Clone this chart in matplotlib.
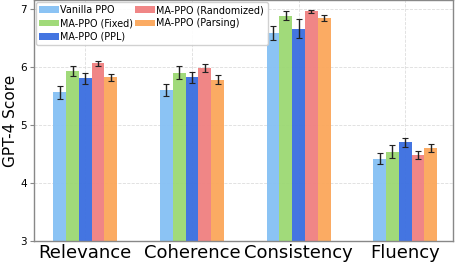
import matplotlib
matplotlib.use("Agg")
import matplotlib.pyplot as plt
import numpy as np

categories = ["Relevance", "Coherence", "Consistency", "Fluency"]
series_names = ["Vanilla PPO", "MA-PPO (Fixed)", "MA-PPO (PPL)",
                "MA-PPO (Randomized)", "MA-PPO (Parsing)"]
vanilla = [5.56, 5.60, 6.58, 4.42]
fixed = [5.93, 5.90, 6.88, 4.54]
ppl = [5.80, 5.82, 6.66, 4.70]
randomized = [6.06, 5.98, 6.96, 4.48]
parsing = [5.82, 5.78, 6.84, 4.60]
vanilla_err = [0.11, 0.11, 0.12, 0.095]
fixed_err = [0.085, 0.11, 0.08, 0.115]
ppl_err = [0.10, 0.10, 0.16, 0.077]
randomized_err = [0.045, 0.065, 0.025, 0.074]
parsing_err = [0.057, 0.075, 0.05, 0.074]

values = [vanilla, fixed, ppl, randomized, parsing]
errors = [vanilla_err, fixed_err, ppl_err, randomized_err, parsing_err]
colors = ["#85C0F4", "#9CD873", "#3A6EE0", "#F08080", "#FBA75B"]

fig = plt.figure(figsize=(4.61, 2.68), dpi=100)
ax = fig.add_axes([0.074, 0.1007, 0.909, 0.9])

x = np.arange(len(categories))
w = 0.12
for i, (vals, errs, c, name) in enumerate(zip(values, errors, colors, series_names)):
    ax.bar(x + (i - 2) * w, vals, w, yerr=errs, color=c, alpha=0.95, label=name,
           error_kw=dict(ecolor="#222222", elinewidth=1.0, capsize=2, capthick=0.8),
           zorder=2)

ax.set_xlim(-0.48, 3.45)
ax.set_ylim(3, 7.155)
ax.set_yticks([3, 4, 5, 6, 7])
ax.set_xticks(x)
ax.set_xticklabels(categories, fontsize=13)
ax.tick_params(axis="y", labelsize=7.5, length=3, color="#888888", pad=2)
ax.tick_params(axis="x", length=0, pad=2)
ax.set_ylabel("GPT-4 Score", fontsize=11, labelpad=2)
ax.grid(True, linestyle="--", color="#DDDDDD", linewidth=0.6, zorder=0)
ax.set_axisbelow(True)
for s in ax.spines.values():
    s.set_color("#888888")
    s.set_linewidth(1.0)

ax.legend(loc="upper left", ncol=2, fontsize=6.9, frameon=True, framealpha=0.9,
          edgecolor="#CCCCCC", handlelength=2.0, columnspacing=0.2,
          labelspacing=0.35, handletextpad=0.2, borderpad=0.35,
          borderaxespad=0.2, bbox_to_anchor=(0.0, 1.0))

fig.savefig("out.png", dpi=100)
